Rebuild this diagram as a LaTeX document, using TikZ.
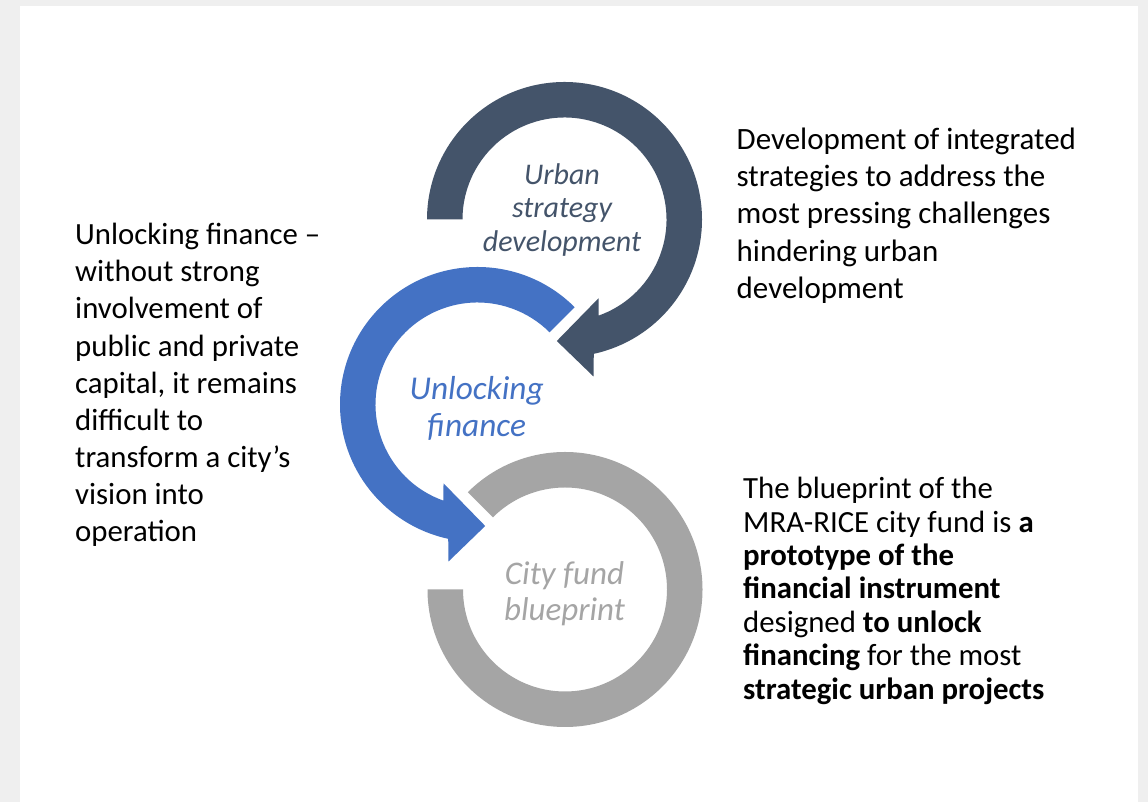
\documentclass[tikz,border=0pt]{standalone}
\usepackage{fontspec}
\setmainfont{Carlito}
\usetikzlibrary{calc}
\definecolor{darkc}{HTML}{44546A}
\definecolor{bluec}{HTML}{4472C4}
\definecolor{grayc}{HTML}{A5A5A5}
\definecolor{bgc}{HTML}{EFEFEF}
\begin{document}
\begin{tikzpicture}[x=1pt,y=1pt,
  bodytext/.style={inner sep=0pt, anchor=base west, align=left, text=black},
  ringlabel/.style={inner sep=0pt, anchor=base, align=center}]
\useasboundingbox (0,0) rectangle (1148,802);
\fill[bgc] (0,0) rectangle (1148,802);
\fill[white] (20,0) rectangle (1138,796);
% ring centres
\coordinate (D) at (564.5,582.5);
\coordinate (B) at (477.5,397.5);
\coordinate (G) at (565,212.5);
% gray ring
\fill[grayc] ($(G)+(135:137.5)$) arc[start angle=135,end angle=-180,radius=137.5]
  -- ($(G)+(-180:102)$) arc[start angle=-180,end angle=135,radius=102] -- cycle;
% blue arrow
\fill[bluec] ($(B)+(45:137.5)$) arc[start angle=45,end angle=257.7,radius=137.5]
  -- ($(B)+(-29,-157)$) -- ($(B)+(7.7,-121.5)$) -- ($(B)+(-34,-78.8)$)
  -- ($(B)+(250.5:102)$) arc[start angle=250.5,end angle=45,radius=102] -- cycle;
% dark arrow
\fill[darkc] ($(D)+(180:137.5)$) arc[start angle=180,end angle=-77.7,radius=137.5]
  -- ($(D)+(29,-157)$) -- ($(D)+(-7.7,-121.5)$) -- ($(D)+(34,-78.8)$)
  -- ($(D)+(-70.5:102)$) arc[start angle=-70.5,end angle=180,radius=102] -- cycle;
% ring labels (anchored at the baseline of the last line)
\node[ringlabel, text=darkc, font=\fontsize{30}{33.5}\selectfont\itshape] (ld) at (562,550.5) {Urban\\strategy\\development};
\node[ringlabel, text=bluec, font=\fontsize{33.3}{37.3}\selectfont\itshape] (lb) at (476.7,365.5) {Unlocking\\finance};
\node[ringlabel, text=grayc, font=\fontsize{33}{35.5}\selectfont\itshape] (lg) at (564.5,181.5) {City fund\\blueprint};
% side texts
\node[bodytext, font=\fontsize{30.8}{37.1}\selectfont] (tl) at (75,260.4) {Unlocking finance --\\without strong\\involvement of\\public and private\\capital, it remains\\difficult to\\transform a city’s\\vision into\\operation};
\node[bodytext, font=\fontsize{31}{37.3}\selectfont] (tr) at (736.5,503.6) {Development of integrated\\strategies to address the\\most pressing challenges\\hindering urban\\development};
\node[bodytext, font=\fontsize{30.8}{33.4}\selectfont] (tb) at (743,102.8) {The blueprint of the\\MRA-RICE city fund is \textbf{a}\\\textbf{prototype of the}\\\textbf{financial instrument}\\designed \textbf{to unlock}\\\textbf{financing} for the most\\\textbf{strategic urban projects}};
\end{tikzpicture}
\end{document}
